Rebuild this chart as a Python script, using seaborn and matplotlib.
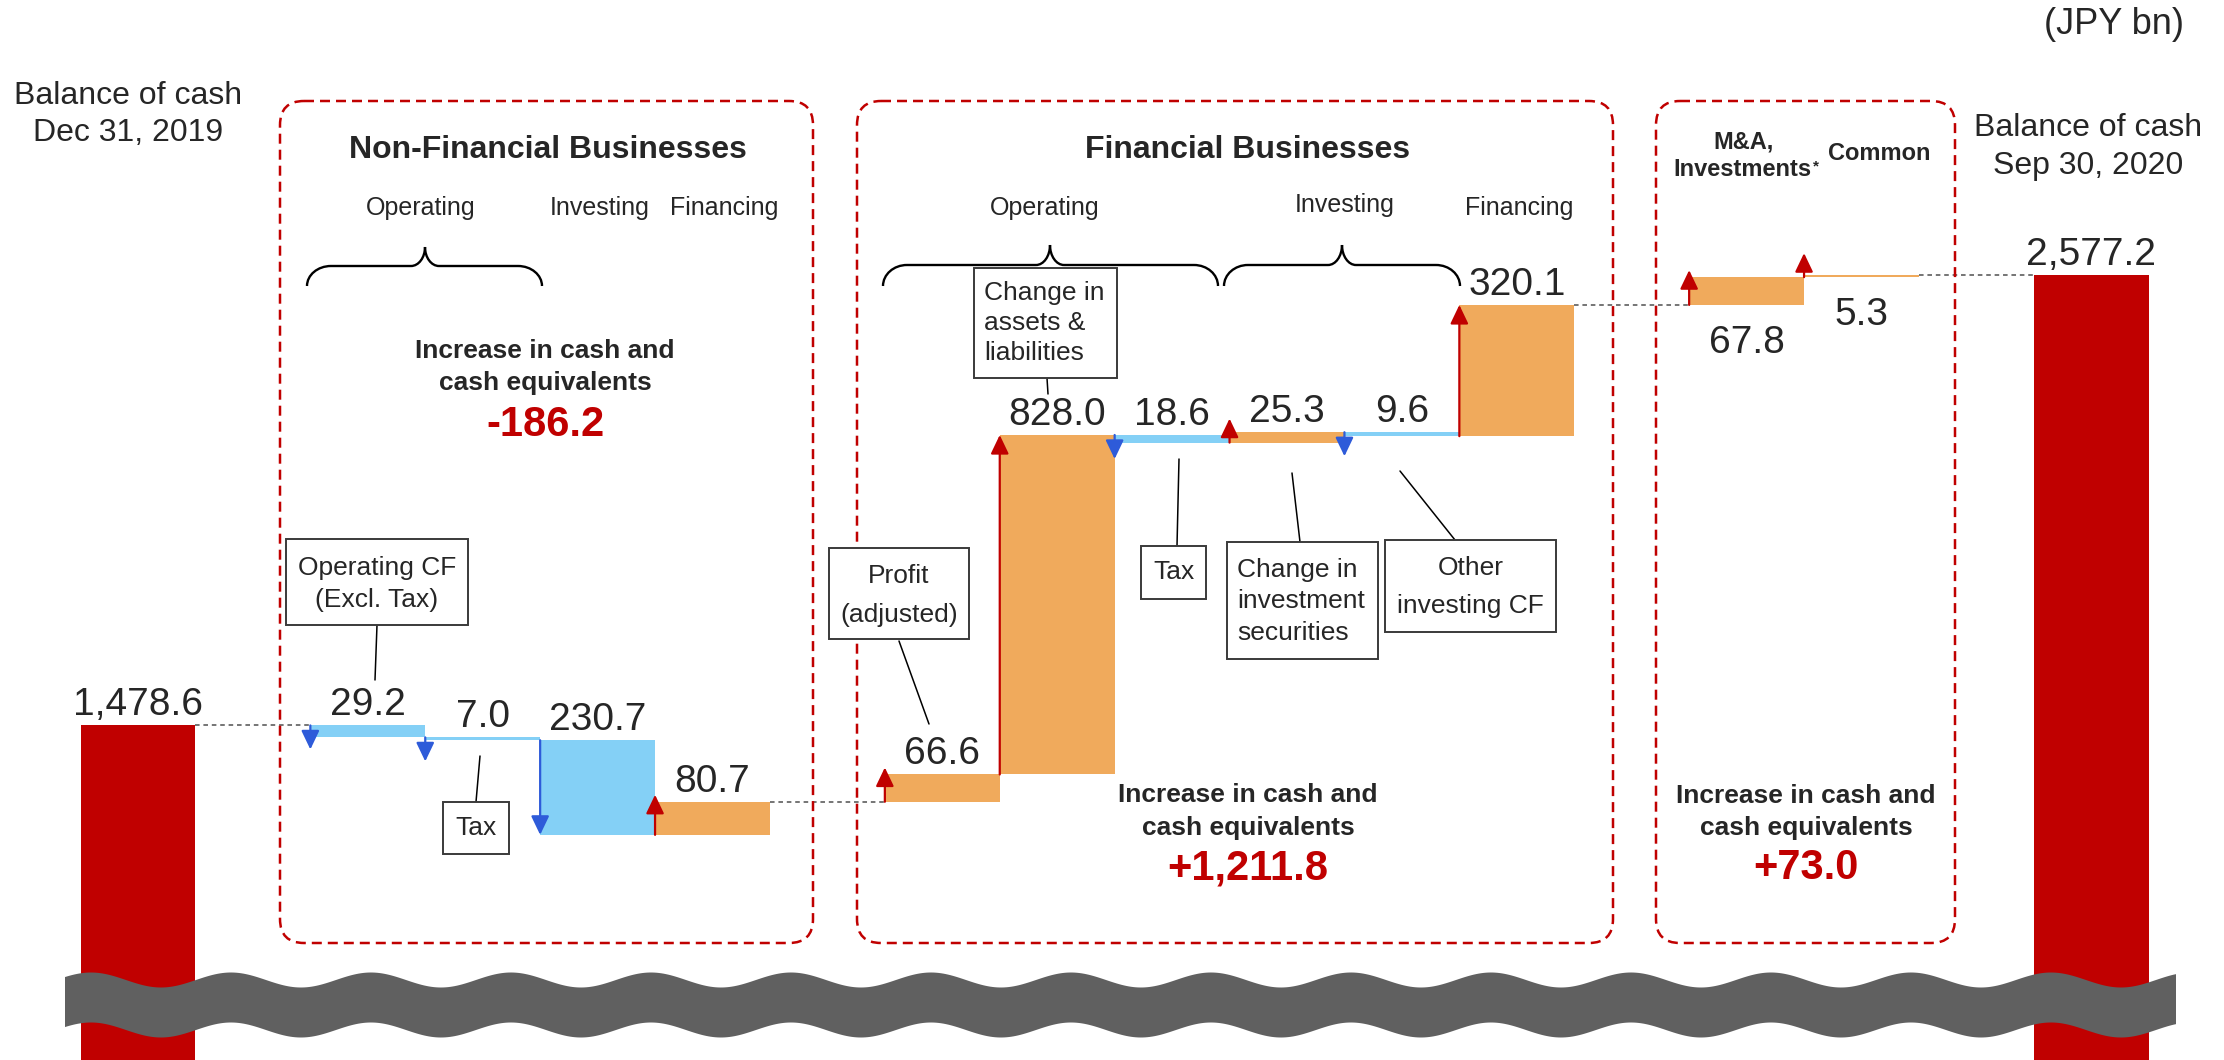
import numpy as np
import pandas as pd
import matplotlib
matplotlib.use("Agg")
import matplotlib.pyplot as plt
from matplotlib.patches import FancyBboxPatch, Rectangle, Polygon, PathPatch
from matplotlib.path import Path
import seaborn as sns

# ---------------- data (JPY bn) ----------------
opening_balance = 1478.6
closing_balance = 2577.2
step_names = ["Operating CF (Excl. Tax)", "Tax", "Investing", "Financing",
              "Profit (adjusted)", "Change in assets & liabilities", "Tax",
              "Change in investment securities", "Other investing CF", "Financing",
              "M&A, Investments", "Common"]
step_values = [-29.2, -7.0, -230.7, 80.7,
               66.6, 828.0, -18.6, 25.3, -9.6, 320.1,
               67.8, 5.3]
section_changes = [-186.2, 1211.8, 73.0]

unit_label = "(JPY bn)"
opening_title = ["Balance of cash", "Dec 31, 2019"]
closing_title = ["Balance of cash", "Sep 30, 2020"]
section_titles = ["Non-Financial Businesses", "Financial Businesses"]
increase_caption = ["Increase in cash and", "cash equivalents"]

# ---------------- layout / style ----------------
W, H, DPI = 2224, 1060, 100
SLOT0_PX, SLOT_PX = 138.0, 114.9
STEP_SLOTS = [2, 3, 4, 5, 7, 8, 9, 10, 11, 12, 14, 15]
OPEN_SLOT, CLOSE_SLOT = 0, 17
PX_PER_UNIT = 0.41
TOP_BAR_PX = 275
LABEL_SIDE = ["above"] * 10 + ["below"] * 2

RED = "#C00000"
ORANGE = "#F0AA5C"
SKY = "#84D0F6"
BLUE = "#2E5BD9"
WAVE = "#606060"

sns.set_theme(style="white")
plt.rcParams["font.family"] = ["Liberation Sans", "DejaVu Sans"]

levels = opening_balance + np.concatenate([[0.0], np.cumsum(step_values)])
starts, ends = levels[:-1], levels[1:]

bars = pd.DataFrame({
    "slot": [OPEN_SLOT] + STEP_SLOTS + [CLOSE_SLOT],
    "height": [opening_balance] + list(np.abs(step_values)) + [closing_balance],
    "bottom": [0.0] + list(np.minimum(starts, ends)) + [0.0],
    "kind": ["total"] + ["up" if v > 0 else "down" for v in step_values] + ["total"],
}).sort_values("slot").reset_index(drop=True)

fig = plt.figure(figsize=(W / DPI, H / DPI), dpi=DPI)
ax = fig.add_axes([0, 0, 1, 1])
sns.barplot(data=bars, x="slot", y="height", bottom=bars["bottom"].to_numpy(),
            native_scale=True, orient="x", width=1.0, color=RED, saturation=1,
            errorbar=None, linewidth=0, ax=ax)
palette = {"total": RED, "up": ORANGE, "down": SKY}
for patch, kind in zip(ax.patches, bars["kind"]):
    patch.set_facecolor(palette[kind])
    patch.set_edgecolor("none")

ax.set_xlim(-SLOT0_PX / SLOT_PX, (W - SLOT0_PX) / SLOT_PX)
ax.set_ylim(closing_balance - (H - TOP_BAR_PX) / PX_PER_UNIT,
            closing_balance + TOP_BAR_PX / PX_PER_UNIT)
ax.axis("off")

# overlay in pixel coordinates (y downwards) for annotations
ov = fig.add_axes([0, 0, 1, 1], facecolor="none")
ov.set_xlim(0, W)
ov.set_ylim(H, 0)
ov.axis("off")


def to_px(x, y):
    dx, dy = ax.transData.transform((x, y))
    return dx, H - dy


ppu = ax.transData.transform((0, 1))[1] - ax.transData.transform((0, 0))[1]

# direction arrows on the left edge of each step
for slot, s, e in zip(STEP_SLOTS, starts, ends):
    bar_px = abs(e - s) * ppu
    length_px = bar_px if bar_px >= 60 else max(bar_px + 7, 24)
    tip = s + np.sign(e - s) * length_px / ppu
    col = RED if e > s else BLUE
    ax.annotate("", xy=(slot - 0.5, tip), xytext=(slot - 0.5, s),
                arrowprops=dict(arrowstyle="-|>,head_length=1.15,head_width=0.55",
                                color=col, lw=1.6, shrinkA=0, shrinkB=0,
                                mutation_scale=10), zorder=4)

# dotted connectors across gaps
seq_slots = [OPEN_SLOT] + STEP_SLOTS + [CLOSE_SLOT]
seq_levels = list(levels) + [closing_balance]
for j in range(len(seq_slots) - 1):
    if seq_slots[j + 1] - seq_slots[j] > 1:
        ax.plot([seq_slots[j] + 0.5, seq_slots[j + 1] - 0.5],
                [seq_levels[j], seq_levels[j]], color="#505050", lw=1.1,
                linestyle=(0, (3, 2.5)), zorder=1)

# value labels
VAL_FS = 28


def value_label(slot, edge, text, side):
    x, y = to_px(slot, edge)
    if side == "above":
        ov.text(x, y - 10, text, ha="center", va="baseline", fontsize=VAL_FS, zorder=5)
    else:
        ov.text(x, y + 48, text, ha="center", va="baseline", fontsize=VAL_FS, zorder=5)


value_label(OPEN_SLOT, opening_balance, f"{opening_balance:,.1f}", "above")
value_label(CLOSE_SLOT, closing_balance, f"{closing_balance:,.1f}", "above")
for slot, s, e, v, side in zip(STEP_SLOTS, starts, ends, step_values, LABEL_SIDE):
    edge = max(s, e) if side == "above" else min(s, e)
    value_label(slot, edge, f"{abs(v):,.1f}", side)

# dashed section frames
for x0, x1 in [(280, 813), (857, 1613), (1656, 1955)]:
    ov.add_patch(FancyBboxPatch((x0, 101), x1 - x0, 943 - 101,
                                boxstyle="round,pad=0,rounding_size=24",
                                fill=False, ec=RED, lw=1.8,
                                linestyle=(0, (4.0, 2.4)), zorder=2))


def brace(x0, x1, xt, y_tip, y_line, y_end, r=24, rt=14, k=0.5523):
    verts = [
        (x0, y_end),
        (x0, y_end - k * (y_end - y_line)), (x0 + r * (1 - k), y_line), (x0 + r, y_line),
        (xt - rt, y_line),
        (xt - rt + k * rt, y_line), (xt, y_tip + k * (y_line - y_tip)), (xt, y_tip),
        (xt, y_tip + k * (y_line - y_tip)), (xt + rt - k * rt, y_line), (xt + rt, y_line),
        (x1 - r, y_line),
        (x1 - r + k * r, y_line), (x1, y_end - k * (y_end - y_line)), (x1, y_end),
    ]
    codes = [Path.MOVETO, Path.CURVE4, Path.CURVE4, Path.CURVE4, Path.LINETO,
             Path.CURVE4, Path.CURVE4, Path.CURVE4,
             Path.CURVE4, Path.CURVE4, Path.CURVE4, Path.LINETO,
             Path.CURVE4, Path.CURVE4, Path.CURVE4]
    ov.add_patch(PathPatch(Path(verts, codes), fill=False, lw=1.7, ec="black", zorder=3))


brace(307, 542, 425, 247, 266, 286)
brace(883, 1218, 1050, 245, 265, 286)
brace(1224, 1460, 1342, 245, 265, 286)


def callout(x0, y0, x1, y1, lines, ys, align="center"):
    ov.add_patch(Rectangle((x0, y0), x1 - x0, y1 - y0, fc="white", ec="#3a3a3a",
                           lw=1.4, zorder=4))
    for t, y in zip(lines, ys):
        if align == "center":
            ov.text((x0 + x1) / 2, y, t, ha="center", va="center", fontsize=19, zorder=5)
        else:
            ov.text(x0 + 10, y, t, ha="left", va="center", fontsize=19, zorder=5)


def leader(p, q):
    ov.plot([p[0], q[0]], [p[1], q[1]], color="black", lw=1.1, zorder=3)


# Non-Financial callouts
callout(286, 539, 468, 625, ["Operating CF", "(Excl. Tax)"], [568, 600])
leader((377, 625), (375, 680))
callout(443, 802, 509, 854, ["Tax"], [828])
leader((480, 756), (476, 802))

# Financial callouts
callout(829, 548, 969, 639, ["Profit", "(adjusted)"], [576, 615])
leader((899, 641), (929, 724))
callout(974, 268, 1117, 378, ["Change in", "assets &", "liabilities"], [293, 323, 353], align="left")
leader((1047, 378), (1048, 394))
callout(1141, 546, 1206, 599, ["Tax"], [572])
leader((1179, 459), (1177, 546))
callout(1227, 542, 1378, 659, ["Change in", "investment", "securities"], [570, 601, 633], align="left")
leader((1292, 473), (1300, 542))
callout(1385, 540, 1556, 632, ["Other", "investing CF"], [568, 606])
leader((1400, 471), (1455, 540))

# headings
ov.text(548, 150, section_titles[0], ha="center", va="center", fontsize=23, fontweight="bold")
ov.text(1248, 150, section_titles[1], ha="center", va="center", fontsize=23, fontweight="bold")
for x, y, t in [(421, 208, "Operating"), (600, 208, "Investing"), (724, 208, "Financing"),
                (1045, 208, "Operating"), (1345, 205, "Investing"), (1519, 208, "Financing")]:
    ov.text(x, y, t, ha="center", va="center", fontsize=18)

ov.text(1744, 142, "M&A,", ha="center", va="center", fontsize=17, fontweight="bold")
inv_txt = ov.text(1742, 170, "Investments", ha="center", va="center", fontsize=17, fontweight="bold")
ov.text(1879, 153, "Common", ha="center", va="center", fontsize=17, fontweight="bold")

# section totals
for xc, ys, val in [(545, (351, 383, 425), section_changes[0]),
                    (1248, (795, 828, 868), section_changes[1]),
                    (1806, (796, 828, 868), section_changes[2])]:
    ov.text(xc, ys[0], increase_caption[0], ha="center", va="center", fontsize=19, fontweight="bold")
    ov.text(xc, ys[1], increase_caption[1], ha="center", va="center", fontsize=19, fontweight="bold")
    ov.text(xc, ys[2], f"{val:+,.1f}", ha="center", va="center", fontsize=30,
            fontweight="bold", color=RED)

# balance titles and unit
ov.text(128, 96, opening_title[0], ha="center", va="center", fontsize=23)
ov.text(128, 133, opening_title[1], ha="center", va="center", fontsize=23)
ov.text(2088, 128, closing_title[0], ha="center", va="center", fontsize=23)
ov.text(2088, 166, closing_title[1], ha="center", va="center", fontsize=23)
ov.text(2114, 25, unit_label, ha="center", va="center", fontsize=26)

# axis-break band
xs = np.linspace(65, 2176, 900)
top = 980 - 7.5 * np.cos(2 * np.pi * (xs - 91) / 140)
band = np.column_stack([np.r_[xs, xs[::-1]], np.r_[top, (top + 50)[::-1]]])
ov.add_patch(Polygon(band, closed=True, fc=WAVE, ec="none", zorder=6))

# footnote mark after "Investments"
fig.canvas.draw()
bb = inv_txt.get_window_extent()
mx, my = ov.transData.inverted().transform((bb.x1, bb.y1))
ov.text(mx + 2, my + 1, "*", ha="left", va="top", fontsize=11, fontweight="bold")

fig.savefig("out.png", dpi=DPI)
